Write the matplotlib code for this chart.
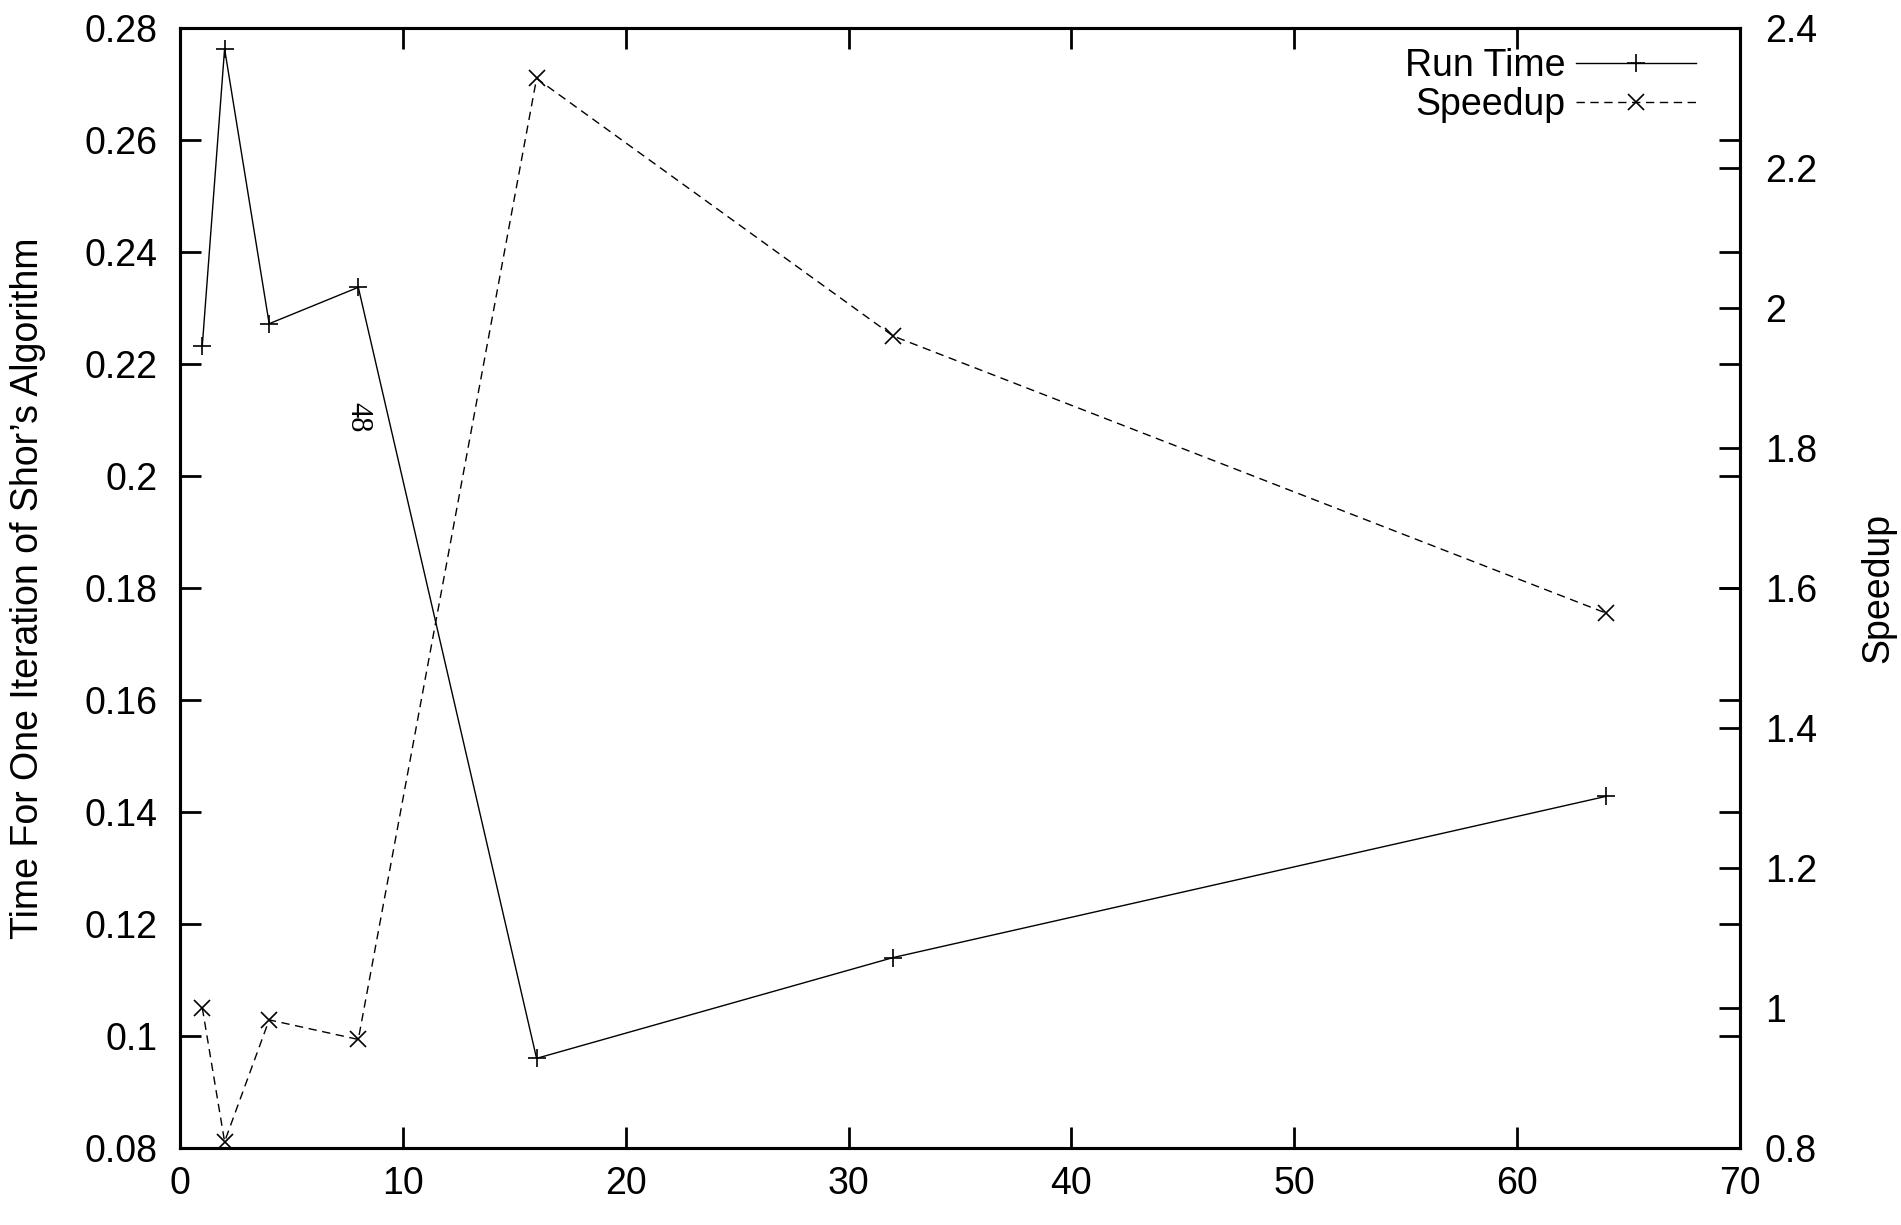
import matplotlib
matplotlib.use("Agg")
import matplotlib.pyplot as plt
from matplotlib.ticker import FuncFormatter, MultipleLocator

plt.rcParams['font.family'] = ['Liberation Sans', 'DejaVu Sans']

processors = [1, 2, 4, 8, 16, 32, 64]
run_time = [0.2233, 0.2763, 0.2272, 0.2337, 0.0960, 0.1140, 0.1428]
speedup = [1.000, 0.809, 0.983, 0.955, 2.328, 1.960, 1.564]

x_label_note = "48"
note_x, note_y = 8, 0.2105

fig = plt.figure(figsize=(19.01, 12.25), dpi=100)
ax = fig.add_axes([0.0947, 0.0629, 0.8206, 0.9142])
ax2 = ax.twinx()

fs = 27
l1, = ax.plot(processors, run_time, color='black', lw=1.0, marker='+',
              markersize=13, markeredgewidth=1.2, label='Run Time')
l2, = ax2.plot(processors, speedup, color='black', lw=1.0, ls=(0, (6, 4)),
               marker='x', markersize=12, markeredgewidth=1.2, label='Speedup')

ax.set_xlim(0, 70)
ax.set_ylim(0.08, 0.28)
ax2.set_ylim(0.8, 2.4)
ax.xaxis.set_major_locator(MultipleLocator(10))
ax.yaxis.set_major_locator(MultipleLocator(0.02))
ax2.yaxis.set_major_locator(MultipleLocator(0.2))

fmt = FuncFormatter(lambda v, p: '%g' % round(v, 6))
ax.xaxis.set_major_formatter(fmt)
ax.yaxis.set_major_formatter(fmt)
ax2.yaxis.set_major_formatter(fmt)

ax.tick_params(axis='x', direction='in', length=15, width=2, top=True,
               labelsize=fs, pad=13)
ax.tick_params(axis='y', direction='in', length=15, width=2, right=True,
               labelsize=fs, pad=16)
ax2.tick_params(axis='y', direction='in', length=15, width=2,
                labelsize=fs, pad=18)

for a in (ax, ax2):
    for s in a.spines.values():
        s.set_linewidth(2.2)

ax.set_ylabel("Time For One Iteration of Shor’s Algorithm", fontsize=fs)
ax2.set_ylabel("Speedup", fontsize=fs)
ax.yaxis.set_label_coords(-0.086, 0.5)
ax2.yaxis.set_label_coords(1.077, 0.5)

ax.text(note_x, note_y, x_label_note, rotation=-90, ha='center', va='center',
        fontsize=22, family=['Liberation Serif', 'DejaVu Serif'])

leg = ax2.legend(handles=[l1, l2], loc='upper right',
                 bbox_to_anchor=(0.972, 0.982), frameon=False,
                 fontsize=fs, markerfirst=False, numpoints=1,
                 handlelength=3.2, handletextpad=0.3, labelspacing=0.08,
                 borderpad=0, borderaxespad=0)
for t in leg.get_texts():
    t.set_ha('right')

fig.savefig("out.png", dpi=100)
